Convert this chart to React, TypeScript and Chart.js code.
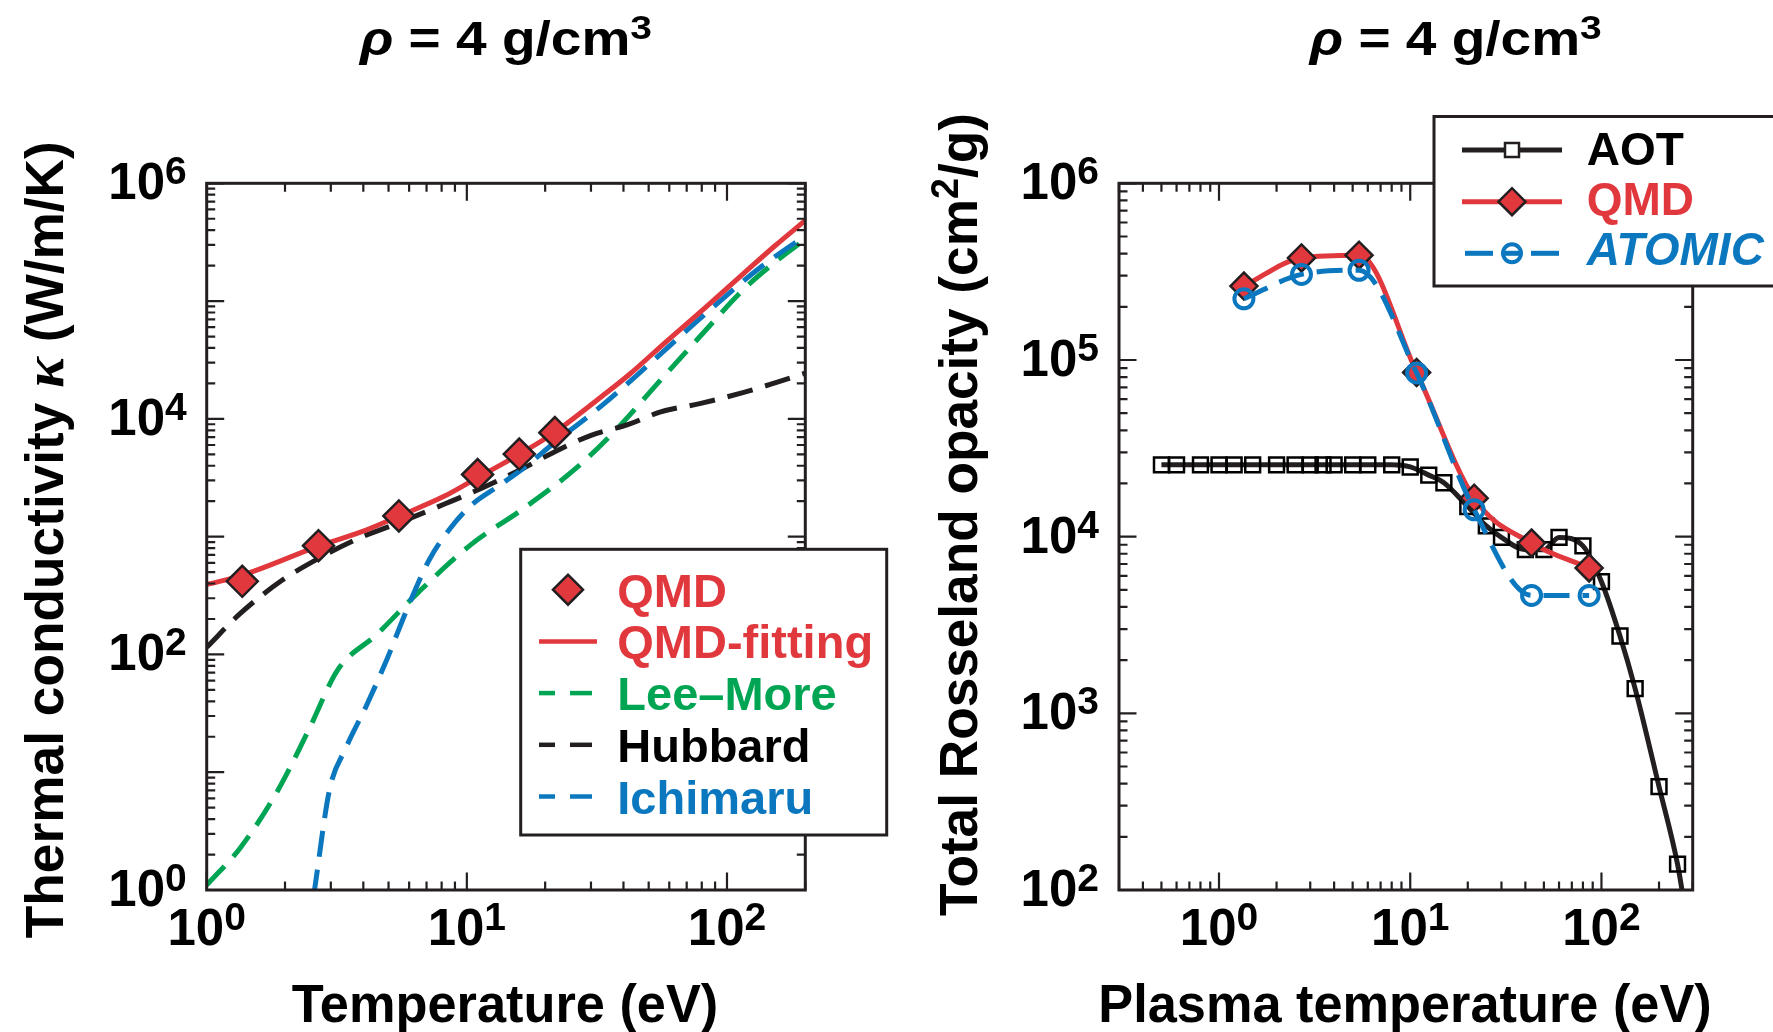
import React, { useEffect, useRef } from "react";
import { Chart, registerables } from "chart.js";
Chart.register(...registerables);

const PAGE_W = 1773;
const PAGE_H = 1032;
const FONT = "'Liberation Sans', Arial, Helvetica, sans-serif";
const SERIF = "'Liberation Serif', 'DejaVu Serif', serif";

const RED = "#e1383e";
const GREEN = "#00a553";
const BLUE = "#0b77bf";
const INK = "#231f20";

// ---------- Left panel: thermal conductivity (W/m/K) vs temperature (eV) ----------
const qmdTempL = [1.37, 2.69, 5.48, 11.0, 15.9, 21.8];
const qmdKappa = [418, 838, 1500, 3370, 5030, 7640];

const fitTemp = [1, 1.37, 2.69, 4.1, 5.48, 8.25, 11, 15.9, 21.8, 33, 42, 58, 84, 116, 153, 200];
const fitKappa = [392, 470, 830, 1137, 1490, 2220, 3170, 5000, 7700, 15500, 23700, 44700, 91200, 172000, 295000, 484000];

const leeMoreTemp = [1, 1.35, 1.87, 2.47, 3.19, 4.51, 6.54, 10.4, 16.5, 26.3, 38.1, 55.2, 80, 116, 153, 200];
const leeMoreKappa = [1.1, 2.3, 6.9, 23, 74, 148, 340, 860, 1730, 3810, 8400, 21000, 52000, 126000, 214000, 335000];

const hubbardTemp = [1, 1.35, 1.96, 2.69, 3.75, 5.48, 8.25, 11.4, 16.5, 21.8, 30.2, 41.8, 55.2, 80, 116, 153, 200];
const hubbardKappa = [115, 224, 430, 653, 946, 1310, 1900, 2580, 3810, 5270, 7290, 8960, 11400, 13600, 16800, 20200, 24400];

const ichimaruTemp = [2.58, 2.97, 3.42, 4.11, 4.95, 5.96, 7.18, 8.64, 10.4, 13.1, 16.5, 21.8, 33.1, 52.7, 83.7, 133, 200];
const ichimaruKappa = [0.9, 7.2, 15.9, 36.7, 93, 258, 640, 1180, 1850, 2650, 3810, 6340, 13000, 32000, 80000, 190000, 360000];

// ---------- Right panel: total Rosseland opacity (cm2/g) vs plasma temperature (eV) ----------
const aotTemp = [0.5, 0.6, 0.8, 1.0, 1.2, 1.5, 2, 2.5, 3, 3.5, 4, 5, 6, 8, 10, 12.5, 15, 20, 25, 30, 40, 50, 60, 80, 100, 125, 150, 200, 250, 268];
const aotOpacity = [25500, 25500, 25500, 25500, 25500, 25500, 25500, 25500, 25500, 25500, 25500, 25500, 25500, 25500, 24800, 22300, 20200, 14800, 11500, 9900, 8440, 8440, 9900, 8870, 5560, 2740, 1380, 385, 140, 90];

const qmdTempR = [1.35, 2.7, 5.4, 10.8, 21.6, 43.1, 86.2];
const qmdOpacity = [262000, 378000, 392000, 85000, 16500, 9200, 6650];
const atomicOpacity = [222000, 305000, 322000, 84500, 14200, 4650, 4650];

// tick labels (exponents of the labelled decades)
const leftXExp = [0, 1, 2];
const leftYExp = [0, 2, 4, 6];
const rightXExp = [0, 1, 2];
const rightYExp = [2, 3, 4, 5, 6];

const pts = (xs: number[], ys: number[]) => xs.map((x, i) => ({ x, y: ys[i] }));

type Run = { t: string; font: string; dy?: number; color?: string };

function drawRuns(
  ctx: CanvasRenderingContext2D,
  runs: Run[],
  x: number,
  y: number,
  align: "left" | "center" | "right",
  color: string,
  opts: { targetW?: number; sx?: number; rotate?: boolean } = {}
) {
  ctx.save();
  ctx.translate(x, y);
  if (opts.rotate) ctx.rotate(-Math.PI / 2);
  let w = 0;
  const widths: number[] = [];
  for (const r of runs) {
    ctx.font = r.font;
    const m = ctx.measureText(r.t).width;
    widths.push(m);
    w += m;
  }
  const sx = opts.targetW ? opts.targetW / w : opts.sx ?? 1;
  ctx.scale(sx, 1);
  let cx = align === "left" ? 0 : align === "center" ? -w / 2 : -w;
  ctx.textBaseline = "alphabetic";
  ctx.textAlign = "left";
  runs.forEach((r, i) => {
    ctx.font = r.font;
    ctx.fillStyle = r.color ?? color;
    ctx.fillText(r.t, cx, r.dy ?? 0);
    cx += widths[i];
  });
  ctx.restore();
}

function logTicks(min: number, max: number) {
  const out: { v: number; major: boolean }[] = [];
  const d0 = Math.floor(Math.log10(min));
  const d1 = Math.ceil(Math.log10(max));
  for (let d = d0; d <= d1; d++) {
    for (let m = 1; m <= 9; m++) {
      const v = m * Math.pow(10, d);
      if (v >= min * 0.9999 && v <= max * 1.0001) out.push({ v, major: m === 1 });
    }
  }
  return out;
}

const tickRuns = (e: number): Run[] => [
  { t: "10", font: `bold 51px ${FONT}` },
  { t: String(e), font: `bold 39px ${FONT}`, dy: -15 },
];

function framePlugin(xExp: number[], yExp: number[]) {
  return {
    id: "frame",
    afterDatasetsDraw(chart: any) {
      const { ctx, chartArea: a, scales } = chart;
      const xs = scales.x;
      const ys = scales.y;
      ctx.save();
      ctx.strokeStyle = INK;
      ctx.lineWidth = 2.2;
      ctx.lineCap = "butt";
      for (const t of logTicks(xs.min, xs.max)) {
        const px = xs.getPixelForValue(t.v);
        const len = t.major ? 17.5 : 8.5;
        ctx.beginPath();
        ctx.moveTo(px, a.bottom);
        ctx.lineTo(px, a.bottom - len);
        ctx.moveTo(px, a.top);
        ctx.lineTo(px, a.top + len);
        ctx.stroke();
      }
      for (const t of logTicks(ys.min, ys.max)) {
        const py = ys.getPixelForValue(t.v);
        const len = t.major ? 17.5 : 8.5;
        ctx.beginPath();
        ctx.moveTo(a.left, py);
        ctx.lineTo(a.left + len, py);
        ctx.moveTo(a.right, py);
        ctx.lineTo(a.right - len, py);
        ctx.stroke();
      }
      ctx.lineWidth = 3;
      ctx.strokeRect(a.left, a.top, a.right - a.left, a.bottom - a.top);
      for (const e of xExp) {
        const px = xs.getPixelForValue(Math.pow(10, e));
        drawRuns(ctx, tickRuns(e), px, a.bottom + 55, "center", "#000", { sx: 1 });
      }
      for (const e of yExp) {
        const py = ys.getPixelForValue(Math.pow(10, e));
        drawRuns(ctx, tickRuns(e), a.left - 20, py + 16, "right", "#000", { sx: 1 });
      }
      ctx.restore();
    },
  };
}

function diamond(ctx: CanvasRenderingContext2D, x: number, y: number, r: number) {
  ctx.beginPath();
  ctx.moveTo(x - r, y);
  ctx.lineTo(x, y - r);
  ctx.lineTo(x + r, y);
  ctx.lineTo(x, y + r);
  ctx.closePath();
  ctx.fillStyle = RED;
  ctx.fill();
  ctx.lineWidth = 2.5;
  ctx.strokeStyle = INK;
  ctx.stroke();
}

function seg(ctx: CanvasRenderingContext2D, x0: number, x1: number, y: number, color: string, w: number) {
  ctx.beginPath();
  ctx.moveTo(x0, y);
  ctx.lineTo(x1, y);
  ctx.strokeStyle = color;
  ctx.lineWidth = w;
  ctx.stroke();
}

const leftDecor = {
  id: "leftDecor",
  afterDraw(chart: any) {
    const ctx: CanvasRenderingContext2D = chart.ctx;
    ctx.save();
    // legend box
    ctx.fillStyle = "#fff";
    ctx.fillRect(520.7, 549.3, 366, 285.7);
    ctx.lineWidth = 3;
    ctx.strokeStyle = INK;
    ctx.strokeRect(520.7, 549.3, 366, 285.7);
    const lf = `bold 47px ${FONT}`;
    const rows = [
      { label: "QMD", color: RED },
      { label: "QMD-fitting", color: RED },
      { label: "Lee\u2013More", color: GREEN },
      { label: "Hubbard", color: "#000" },
      { label: "Ichimaru", color: BLUE },
    ];
    rows.forEach((r, i) => {
      const base = 606.7 + i * 51.7;
      const ly = base - 17;
      if (i === 0) diamond(ctx, 568, ly, 15);
      else if (i === 1) seg(ctx, 539, 597, ly, RED, 4.5);
      else {
        const c = i === 2 ? GREEN : i === 3 ? INK : BLUE;
        seg(ctx, 539, 555, ly, c, 4.5);
        seg(ctx, 570, 592, ly, c, 4.5);
      }
      drawRuns(ctx, [{ t: r.label, font: lf }], 617.3, base, "left", r.color);
    });
    // titles
    drawRuns(
      ctx,
      [
        { t: "\u03c1", font: `italic bold 48px ${FONT}` },
        { t: " = 4 g/cm", font: `bold 48px ${FONT}` },
        { t: "3", font: `bold 34px ${FONT}`, dy: -16 },
      ],
      506,
      55,
      "center",
      "#000",
      { targetW: 292 }
    );
    drawRuns(ctx, [{ t: "Temperature (eV)", font: `bold 53.5px ${FONT}` }], 505, 1021.7, "center", "#000", { targetW: 426.6 });
    drawRuns(
      ctx,
      [
        { t: "Thermal conductivity ", font: `bold 53.5px ${FONT}` },
        { t: "\u03ba", font: `italic bold 58px ${SERIF}` },
        { t: " (W/m/K)", font: `bold 53.5px ${FONT}` },
      ],
      63.2,
      539.7,
      "center",
      "#000",
      { targetW: 797, rotate: true }
    );
    ctx.restore();
  },
};

const rightDecor = {
  id: "rightDecor",
  afterDraw(chart: any) {
    const ctx: CanvasRenderingContext2D = chart.ctx;
    ctx.save();
    ctx.fillStyle = "#fff";
    ctx.fillRect(1434, 116.5, 400, 169.5);
    ctx.lineWidth = 3;
    ctx.strokeStyle = INK;
    ctx.strokeRect(1434, 116.5, 400, 169.5);
    const lf = `bold 46px ${FONT}`;
    // AOT
    seg(ctx, 1462, 1562, 150, INK, 5);
    ctx.fillStyle = "#fff";
    ctx.fillRect(1505, 143, 14, 14);
    ctx.lineWidth = 2.5;
    ctx.strokeStyle = INK;
    ctx.strokeRect(1505, 143, 14, 14);
    drawRuns(ctx, [{ t: "AOT", font: lf }], 1586.7, 165, "left", "#000");
    // QMD
    seg(ctx, 1462, 1562, 201.7, RED, 5);
    diamond(ctx, 1512, 201.7, 13.5);
    drawRuns(ctx, [{ t: "QMD", font: lf }], 1586.7, 215, "left", RED);
    // ATOMIC
    seg(ctx, 1465, 1493, 253.3, BLUE, 5);
    seg(ctx, 1503, 1521, 253.3, BLUE, 5);
    seg(ctx, 1531, 1559, 253.3, BLUE, 5);
    ctx.beginPath();
    ctx.arc(1512, 253.3, 9, 0, Math.PI * 2);
    ctx.lineWidth = 4;
    ctx.strokeStyle = BLUE;
    ctx.stroke();
    drawRuns(ctx, [{ t: "ATOMIC", font: `italic ${lf}` }], 1586.7, 265, "left", BLUE);
    // titles
    drawRuns(
      ctx,
      [
        { t: "\u03c1", font: `italic bold 48px ${FONT}` },
        { t: " = 4 g/cm", font: `bold 48px ${FONT}` },
        { t: "3", font: `bold 34px ${FONT}`, dy: -16 },
      ],
      1455.8,
      55,
      "center",
      "#000",
      { targetW: 292 }
    );
    drawRuns(ctx, [{ t: "Plasma temperature (eV)", font: `bold 53.5px ${FONT}` }], 1405, 1021.7, "center", "#000", { targetW: 613.4 });
    drawRuns(
      ctx,
      [
        { t: "Total Rosseland opacity (cm", font: `bold 53.5px ${FONT}` },
        { t: "2", font: `bold 38px ${FONT}`, dy: -19 },
        { t: "/g)", font: `bold 53.5px ${FONT}` },
      ],
      977,
      514.6,
      "center",
      "#000",
      { targetW: 803, rotate: true }
    );
    ctx.restore();
  },
};

const DASH = [26, 13];

const lineDs = (label: string, xs: number[], ys: number[], color: string, dash: number[], order: number, width = 4) => ({
  label,
  data: pts(xs, ys),
  borderColor: color,
  borderWidth: width,
  borderDash: dash,
  pointRadius: 0,
  fill: false,
  cubicInterpolationMode: "monotone" as const,
  order,
});

function leftConfig(): any {
  return {
    type: "line",
    data: {
      datasets: [
        {
          label: "QMD",
          data: pts(qmdTempL, qmdKappa),
          showLine: false,
          pointStyle: "rectRot",
          pointRadius: 15.5,
          pointBackgroundColor: RED,
          pointBorderColor: INK,
          pointBorderWidth: 2.5,
          order: 0,
        },
        lineDs("QMD-fitting", fitTemp, fitKappa, RED, [], 1, 5),
        lineDs("Ichimaru", ichimaruTemp, ichimaruKappa, BLUE, DASH, 2, 5),
        lineDs("Hubbard", hubbardTemp, hubbardKappa, INK, DASH, 3, 5),
        lineDs("Lee\u2013More", leeMoreTemp, leeMoreKappa, GREEN, DASH, 4, 5),
      ],
    },
    options: {
      responsive: false,
      maintainAspectRatio: false,
      animation: false,
      devicePixelRatio: 1,
      layout: { padding: { left: 206.7, top: 183.3, right: PAGE_W - 805.3, bottom: PAGE_H - 890 } },
      plugins: { legend: { display: false }, tooltip: { enabled: false }, title: { display: false } },
      scales: {
        x: { type: "logarithmic", min: 1, max: 200, display: false },
        y: { type: "logarithmic", min: 1, max: 1e6, display: false },
      },
    },
    plugins: [framePlugin(leftXExp, leftYExp), leftDecor],
  };
}

function rightConfig(): any {
  return {
    type: "line",
    data: {
      datasets: [
        {
          label: "ATOMIC",
          data: pts(qmdTempR, atomicOpacity),
          borderColor: BLUE,
          borderWidth: 5,
          borderDash: DASH,
          pointStyle: "circle",
          pointRadius: 9.5,
          pointBorderWidth: 4,
          pointBorderColor: BLUE,
          pointBackgroundColor: "rgba(0,0,0,0)",
          cubicInterpolationMode: "monotone",
          order: 0,
        },
        {
          label: "QMD",
          data: pts(qmdTempR, qmdOpacity),
          borderColor: RED,
          borderWidth: 5,
          pointStyle: "rectRot",
          pointRadius: 13.5,
          pointBackgroundColor: RED,
          pointBorderColor: INK,
          pointBorderWidth: 2.5,
          cubicInterpolationMode: "monotone",
          order: 1,
        },
        {
          label: "AOT",
          data: pts(aotTemp, aotOpacity),
          borderColor: INK,
          borderWidth: 5,
          pointStyle: "rect",
          pointRadius: aotTemp.map((_, i) => (i === aotTemp.length - 1 ? 0 : 10.5)),
          pointBackgroundColor: "rgba(0,0,0,0)",
          pointBorderColor: "#000",
          pointBorderWidth: 2.5,
          cubicInterpolationMode: "monotone",
          order: 2,
        },
      ],
    },
    options: {
      responsive: false,
      maintainAspectRatio: false,
      animation: false,
      devicePixelRatio: 1,
      layout: { padding: { left: 1119, top: 183.3, right: PAGE_W - 1692.7, bottom: PAGE_H - 890 } },
      plugins: { legend: { display: false }, tooltip: { enabled: false }, title: { display: false } },
      scales: {
        x: { type: "logarithmic", min: 0.3, max: 300, display: false },
        y: { type: "logarithmic", min: 100, max: 1e6, display: false },
      },
    },
    plugins: [framePlugin(rightXExp, rightYExp), rightDecor],
  };
}

export default function App() {
  const leftRef = useRef<HTMLCanvasElement>(null);
  const rightRef = useRef<HTMLCanvasElement>(null);
  useEffect(() => {
    const c1 = new Chart(leftRef.current as HTMLCanvasElement, leftConfig());
    const c2 = new Chart(rightRef.current as HTMLCanvasElement, rightConfig());
    return () => {
      c1.destroy();
      c2.destroy();
    };
  }, []);
  const cs: React.CSSProperties = { position: "absolute", left: 0, top: 0, width: PAGE_W, height: PAGE_H };
  return (
    <div style={{ position: "absolute", left: 0, top: 0, width: PAGE_W, height: PAGE_H, background: "#fff", overflow: "hidden" }}>
      <canvas ref={leftRef} width={PAGE_W} height={PAGE_H} style={cs} />
      <canvas ref={rightRef} width={PAGE_W} height={PAGE_H} style={cs} />
    </div>
  );
}
